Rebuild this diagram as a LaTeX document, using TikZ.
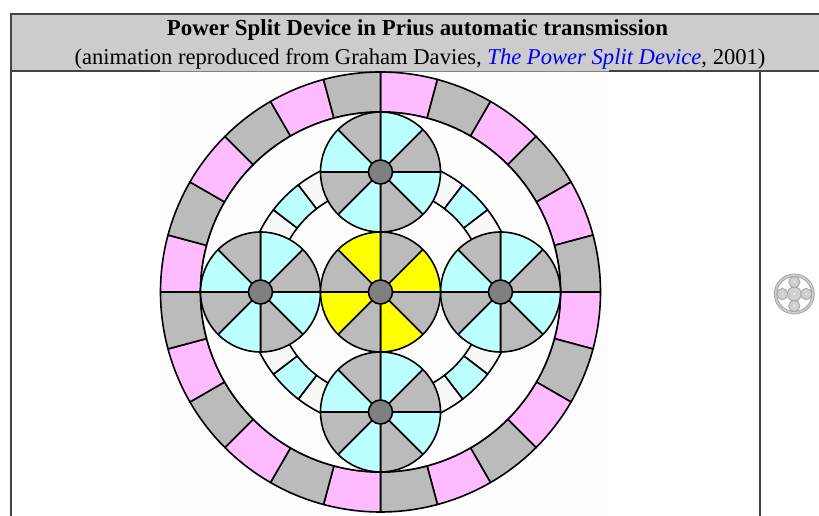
\documentclass[tikz,border=0pt]{standalone}
\usepackage{fontspec}
\setmainfont{Liberation Serif}
\definecolor{hdr}{HTML}{CCCCCC}
\definecolor{rulec}{HTML}{444444}
\definecolor{gry}{HTML}{BBBBBB}
\definecolor{cyn}{HTML}{BBFFFF}
\definecolor{pnk}{HTML}{FFBBFF}
\definecolor{yel}{HTML}{FFFF00}
\definecolor{hubc}{HTML}{808080}
\definecolor{pale}{HTML}{F8F8F8}
\definecolor{imgbg}{HTML}{FDFDFD}
\definecolor{linkb}{HTML}{0000EE}
\definecolor{thumbl}{HTML}{A8A8A8}
\definecolor{thumbf}{HTML}{D0D0D0}
\tikzset{
  x=1pt,y=1pt,
  seg/.style={draw=black,line width=1.6pt,line join=round},
  hub/.style={circle,draw=black,line width=1.6pt,fill=hubc,inner sep=0pt,minimum size=24pt},
  frameline/.style={draw=rulec,line width=1.5pt},
  thumb/.style={draw=thumbl,line width=.9pt},
  txt/.style={anchor=base,inner sep=0pt,text=black}
}
% annular sector: from angle a to b (math angles), radii r to R, centre
\newcommand{\annsec}[6]{\draw[seg,fill=#1] ([shift={(#2:#5)}]#6) arc[start angle=#2,end angle=#3,radius=#5] -- ([shift={(#3:#4)}]#6) arc[start angle=#3,end angle=#2,radius=#4] -- cycle;}
% wheel: eight 45-degree wedges, first colour starts at clockwise-from-top 0
\newcommand{\wheel}[3]{%
  \foreach \k in {0,...,7}{%
    \pgfmathsetmacro{\anga}{90-45*\k}%
    \pgfmathsetmacro{\angb}{\anga-45}%
    \pgfmathtruncatemacro{\parity}{mod(\k,2)}%
    \ifnum\parity=0 \def\wc{#1}\else\def\wc{#2}\fi
    \draw[seg,fill=\wc] (#3) -- ([shift={(\anga:60)}]#3) arc[start angle=\anga,end angle=\angb,radius=60] -- cycle;%
  }%
}
\begin{document}
\begin{tikzpicture}
\useasboundingbox (0,0) rectangle (819,516);
\fill[white] (0,0) rectangle (819,516);
% header band and frame
\fill[hdr] (11,445) rectangle (819,502);
\fill[imgbg] (160,0) rectangle (609,445);
\draw[frameline] (10,502) -- (819,502);
\draw[frameline] (11,502) -- (11,0);
\draw[frameline] (760,445) -- (760,0);
\draw[draw=rulec,line width=1.2pt] (10,445) -- (160,445);
\draw[draw=rulec,line width=1.2pt] (609,445) -- (819,445);
\draw[draw=gray,line width=.8pt] (160,445) -- (609,445);
\node[txt] (title) at (417.5,480) {\fontsize{22.9}{26}\selectfont\bfseries Power Split Device in Prius automatic transmission};
\node[txt] (subtitle) at (420,451.5) {\fontsize{22.6}{26}\selectfont (animation reproduced from Graham Davies, {\color{linkb}\itshape The Power Split Device}, 2001)};
% centres
\coordinate (C) at (380.5,224);
\coordinate (PT) at (380.5,344);
\coordinate (PB) at (380.5,104);
\coordinate (PL) at (260.5,224);
\coordinate (PR) at (500.5,224);
% ring gear
\foreach \i in {0,...,23}{%
  \pgfmathsetmacro{\sa}{90-15*\i}%
  \pgfmathsetmacro{\sb}{\sa-15}%
  \pgfmathtruncatemacro{\parity}{mod(\i,2)}%
  \ifnum\parity=0 \def\rc{pnk}\else\def\rc{gry}\fi
  \annsec{\rc}{\sa}{\sb}{180}{220}{C}
}
\draw[seg,fill=imgbg] (C) circle[radius=180];
% carrier arcs
\foreach \m in {45,135,225,315}{%
  \pgfmathsetmacro{\ma}{\m+22}\pgfmathsetmacro{\mb}{\m+7.5}%
  \pgfmathsetmacro{\mc}{\m-7.5}\pgfmathsetmacro{\md}{\m-22}%
  \annsec{pale}{\ma}{\mb}{105}{135}{C}
  \annsec{cyn}{\mb}{\mc}{105}{135}{C}
  \annsec{pale}{\mc}{\md}{105}{135}{C}
}
% gears
\wheel{cyn}{gry}{PT}
\wheel{cyn}{gry}{PB}
\wheel{cyn}{gry}{PL}
\wheel{cyn}{gry}{PR}
\wheel{gry}{yel}{C}
\node[hub] (hubT) at (PT) {};
\node[hub] (hubB) at (PB) {};
\node[hub] (hubL) at (PL) {};
\node[hub] (hubR) at (PR) {};
\node[hub] (hubC) at (C) {};
% thumbnail
\coordinate (TH) at (794.3,222);
\draw[thumb,fill=thumbf] (TH) circle[radius=20];
\draw[thumb,fill=white] (TH) circle[radius=17.5];
\foreach \o/\rr in {(0,0)/7,(12,0)/5.6,(-12,0)/5.6,(0,12)/5.6,(0,-12)/5.6}{%
  \draw[thumb,fill=thumbf] ([shift={\o}]TH) circle[radius=\rr];
  \fill[white] ([shift={\o}]TH) circle[radius=.8];
}
\end{tikzpicture}
\end{document}
